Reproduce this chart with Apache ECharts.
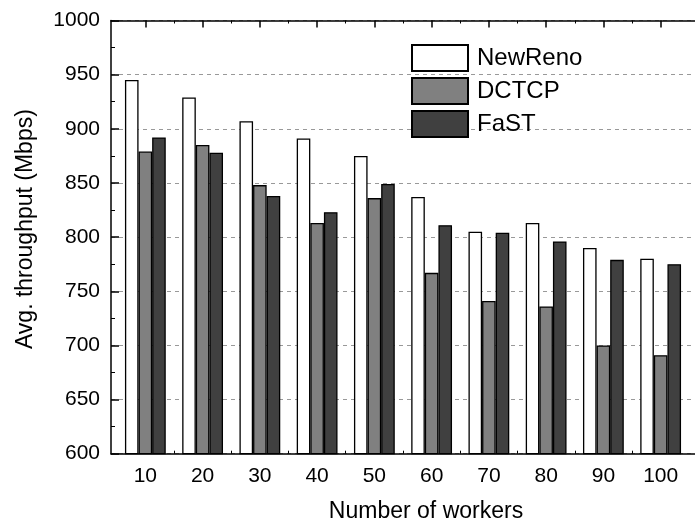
<!DOCTYPE html>
<html>
<head>
<meta charset="utf-8">
<script src="https://cdn.jsdelivr.net/npm/echarts@6/dist/echarts.min.js"></script>
<style>html,body{margin:0;padding:0;background:#fff;}#c{width:695px;height:528px;}</style>
</head>
<body>
<div id="c"></div>
<script>
const workers = [10, 20, 30, 40, 50, 60, 70, 80, 90, 100];
const newReno = [945, 929, 907, 891, 875, 837, 805, 813, 790, 780];
const dctcp   = [879, 885, 848, 813, 836, 767, 741, 736, 700, 691];
const fast    = [892, 878, 838, 823, 849, 811, 804, 796, 779, 775];
const yTicks  = [600, 650, 700, 750, 800, 850, 900, 950, 1000];
const boundaries = [15, 25, 35, 45, 55, 65, 75, 85, 95];

const FONT = 'Liberation Sans, Arial, sans-serif';
const pair = arr => workers.map((w, i) => [w, arr[i]]);
const chart = echarts.init(document.getElementById('c'), null, {renderer: 'canvas'});

const axisLineStyle = {color: '#000', width: 1.5};
const barCommon = {type: 'bar', barWidth: 13.6, barGap: '0%', xAxisIndex: 0, yAxisIndex: 0};

chart.setOption({
  animation: false,
  backgroundColor: '#fff',
  textStyle: {fontFamily: FONT},
  grid: {left: 111, top: 20.5, width: 592.7, height: 433.2, containLabel: false},
  legend: {
    orient: 'vertical', left: 411, top: 44, padding: 0,
    itemWidth: 56, itemHeight: 26, itemGap: 5,
    icon: 'rect',
    textStyle: {fontSize: 24, color: '#000', fontFamily: FONT, padding: [0, 0, 0, 4]},
    data: ['NewReno', 'DCTCP', 'FaST']
  },
  xAxis: [
    {
      type: 'value', position: 'bottom', min: 4, max: 106,
      name: 'Number of workers', nameLocation: 'middle', nameGap: 46,
      nameTextStyle: {fontSize: 23, color: '#000', fontFamily: FONT, padding: [0, 0, 0, 46]},
      axisLine: {show: true, lineStyle: axisLineStyle},
      axisTick: {show: true, inside: true, length: 7, customValues: workers, lineStyle: {color: '#000', width: 1.5}},
      axisLabel: {show: true, customValues: workers, fontSize: 21, color: '#000', margin: 12, fontFamily: FONT},
      splitLine: {show: false}
    },
    {
      type: 'value', position: 'top', min: 4, max: 106,
      axisLine: {show: true, lineStyle: axisLineStyle},
      axisTick: {show: true, inside: true, length: 7, customValues: workers, lineStyle: {color: '#000', width: 1.5}},
      axisLabel: {show: false},
      splitLine: {show: false}
    },
    {
      type: 'value', position: 'bottom', min: 4, max: 106,
      axisLine: {show: false},
      axisTick: {show: true, inside: true, length: 3, customValues: boundaries, lineStyle: {color: '#000', width: 1}},
      axisLabel: {show: false},
      splitLine: {show: false}
    },
    {
      type: 'value', position: 'top', min: 4, max: 106,
      axisLine: {show: false},
      axisTick: {show: true, inside: true, length: 3, customValues: boundaries, lineStyle: {color: '#000', width: 1}},
      axisLabel: {show: false},
      splitLine: {show: false}
    }
  ],
  yAxis: [
    {
      type: 'value', position: 'left', min: 600, max: 1000, interval: 50,
      name: 'Avg. throughput (Mbps)', nameLocation: 'middle', nameGap: 74,
      nameTextStyle: {fontSize: 23, color: '#000', fontFamily: FONT, padding: [0, 0, 0, 16]},
      axisLine: {show: true, lineStyle: axisLineStyle},
      axisTick: {show: true, inside: true, length: 8, lineStyle: {color: '#000', width: 1.5}},
      minorTick: {show: true, splitNumber: 2, length: 4, lineStyle: {color: '#000', width: 1}},
      axisLabel: {fontSize: 21, color: '#000', margin: 11, fontFamily: FONT,
        customValues: yTicks, formatter: v => String(v)},
      splitLine: {show: true, lineStyle: {color: '#999', width: 1, type: [4, 4]}}
    }
  ],
  series: [
    Object.assign({}, barCommon, {name: 'NewReno', data: pair(newReno),
      itemStyle: {color: '#ffffff', borderColor: '#000', borderWidth: 1.3}}),
    Object.assign({}, barCommon, {name: 'DCTCP', data: pair(dctcp),
      itemStyle: {color: '#808080', borderColor: '#000', borderWidth: 1.3}}),
    Object.assign({}, barCommon, {name: 'FaST', data: pair(fast),
      itemStyle: {color: '#404040', borderColor: '#000', borderWidth: 1.3}})
  ]
});
</script>
</body>
</html>
